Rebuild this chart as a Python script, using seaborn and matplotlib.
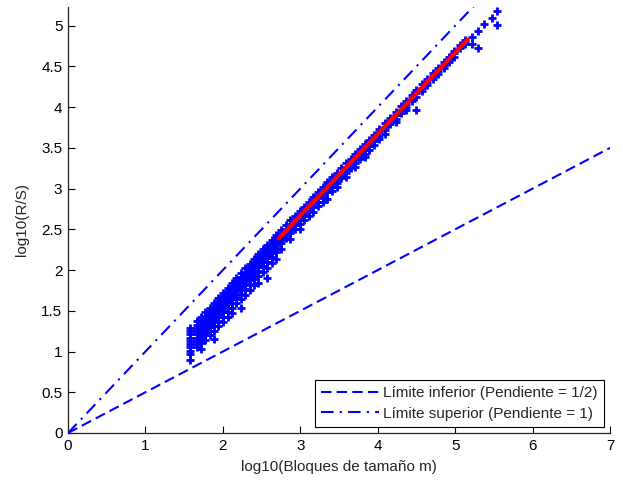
import numpy as np
import pandas as pd
import matplotlib
matplotlib.use('Agg')
import matplotlib.pyplot as plt
import seaborn as sns

# ---- data ----
col_x = [1.57, 1.66, 1.72, 1.77, 1.83, 1.89, 1.94, 2.00, 2.06, 2.12, 2.17, 2.23,
         2.29, 2.35, 2.40, 2.46, 2.52, 2.57, 2.63, 2.69,
         2.75, 2.81, 2.87, 2.93, 2.99, 3.05, 3.11, 3.17, 3.23, 3.29, 3.35, 3.41,
         3.47, 3.53, 3.59, 3.65, 3.71, 3.77, 3.83, 3.89, 3.95,
         4.02, 4.09, 4.16, 4.23, 4.30, 4.37, 4.44, 4.50, 4.57, 4.64, 4.71, 4.78,
         4.85, 4.92, 4.99, 5.06, 5.13, 5.22, 5.30, 5.37, 5.47, 5.54]
col_y = [
    [1.29, 1.25, 1.21, 1.17, 1.13, 1.09, 1.05, 1.01, 0.97, 0.90],
    [1.37, 1.33, 1.29, 1.25, 1.21, 1.17, 1.13, 1.09, 1.05],
    [1.43, 1.39, 1.35, 1.31, 1.27, 1.23, 1.19, 1.15, 1.11, 1.03],
    [1.48, 1.44, 1.40, 1.36, 1.32, 1.28, 1.24, 1.20, 1.14],
    [1.54, 1.50, 1.46, 1.42, 1.38, 1.34, 1.30, 1.25, 1.20],
    [1.60, 1.56, 1.52, 1.48, 1.44, 1.40, 1.36, 1.31, 1.25, 1.15],
    [1.66, 1.62, 1.58, 1.54, 1.50, 1.46, 1.42, 1.37, 1.31],
    [1.72, 1.68, 1.64, 1.60, 1.56, 1.52, 1.48, 1.43, 1.36],
    [1.78, 1.74, 1.70, 1.66, 1.62, 1.58, 1.54, 1.49, 1.42],
    [1.84, 1.80, 1.76, 1.72, 1.68, 1.64, 1.60, 1.54, 1.47],
    [1.90, 1.86, 1.82, 1.78, 1.74, 1.70, 1.66, 1.60],
    [1.96, 1.92, 1.88, 1.84, 1.80, 1.76, 1.71, 1.64, 1.53],
    [2.02, 1.98, 1.94, 1.90, 1.86, 1.82, 1.77, 1.70],
    [2.08, 2.04, 2.00, 1.96, 1.92, 1.88, 1.83, 1.76],
    [2.14, 2.10, 2.06, 2.02, 1.98, 1.94, 1.89, 1.82],
    [2.20, 2.16, 2.12, 2.08, 2.04, 1.99, 1.93, 1.84],
    [2.26, 2.22, 2.18, 2.14, 2.10, 2.05, 1.98],
    [2.31, 2.27, 2.23, 2.19, 2.15, 2.10, 2.03, 1.90],
    [2.37, 2.33, 2.29, 2.25, 2.21, 2.16, 2.09],
    [2.43, 2.39, 2.35, 2.31, 2.27, 2.22, 2.14],
    [2.49, 2.45, 2.41, 2.37, 2.33, 2.26],
    [2.55, 2.51, 2.47, 2.43, 2.39],
    [2.61, 2.57, 2.53, 2.49, 2.45, 2.38],
    [2.67, 2.63, 2.59, 2.55, 2.51],
    [2.73, 2.69, 2.65, 2.61, 2.56, 2.50],
    [2.78, 2.74, 2.70, 2.66, 2.61],
    [2.84, 2.80, 2.76, 2.72, 2.67],
    [2.90, 2.86, 2.82, 2.78, 2.71],
    [2.96, 2.92, 2.88, 2.84, 2.79],
    [3.02, 2.98, 2.94, 2.90, 2.84],
    [3.08, 3.04, 3.00, 2.96, 2.87],
    [3.14, 3.10, 3.06, 3.02, 2.97],
    [3.19, 3.15, 3.11, 3.07, 3.02],
    [3.25, 3.21, 3.17, 3.13],
    [3.31, 3.27, 3.23, 3.19, 3.14],
    [3.37, 3.33, 3.29, 3.25],
    [3.43, 3.39, 3.35, 3.31, 3.26],
    [3.49, 3.45, 3.41, 3.37],
    [3.55, 3.51, 3.47, 3.43, 3.39],
    [3.60, 3.56, 3.52, 3.48],
    [3.66, 3.62, 3.58, 3.54],
    [3.73, 3.69, 3.65, 3.61],
    [3.80, 3.76, 3.72, 3.67],
    [3.87, 3.83, 3.79],
    [3.94, 3.90, 3.86, 3.82],
    [4.01, 3.97, 3.93],
    [4.08, 4.04, 4.00, 3.96],
    [4.15, 4.11, 4.07],
    [4.21, 4.17, 4.13, 3.96],
    [4.28, 4.24, 4.20],
    [4.35, 4.31, 4.27],
    [4.42, 4.38, 4.34],
    [4.48, 4.45, 4.41],
    [4.55, 4.52, 4.48],
    [4.62, 4.59, 4.55],
    [4.69, 4.66, 4.62],
    [4.76, 4.73],
    [4.83, 4.80, 4.77],
    [4.86, 4.78],
    [4.94, 4.73],
    [5.02],
    [5.10],
    [5.18, 5.01],
]

fit_x = [2.72, 5.16]
fit_y = [2.39, 4.83]

bound_x = [0, 7]
lower_y = [0, 3.5]
upper_y = [0, 7]

x_ticks = [0, 1, 2, 3, 4, 5, 6, 7]
y_ticks = [0, 0.5, 1, 1.5, 2, 2.5, 3, 3.5, 4, 4.5, 5]
y_tick_labels = ['0', '0.5', '1', '1.5', '2', '2.5', '3', '3.5', '4', '4.5', '5']

lower_label = 'Límite inferior (Pendiente = 1/2)'
upper_label = 'Límite superior (Pendiente = 1)'
x_label = 'log10(Bloques de tamaño m)'
y_label = 'log10(R/S)'

# ---- build table ----
rows_x, rows_y = [], []
for cx, ys in zip(col_x, col_y):
    for v in ys:
        rows_x.append(cx)
        rows_y.append(v)
df = pd.DataFrame({'x': rows_x, 'y': rows_y})

sns.set_style('white')
plt.rcParams['font.family'] = ['Liberation Sans', 'DejaVu Sans']
plt.rcParams['font.size'] = 11

fig = plt.figure(figsize=(6.23, 4.83), dpi=100)
ax = fig.add_axes([68 / 623, 50 / 483, 542 / 623, 426 / 483])

sns.scatterplot(data=df, x='x', y='y', marker='+', color='#0000ff', s=30,
                linewidth=2.0, ax=ax, legend=False, zorder=2)

sns.lineplot(x=bound_x, y=lower_y, color='#0000ff', linewidth=1.5, ax=ax,
             zorder=3)
l_lower = ax.get_lines()[-1]
l_lower.set_dashes((5, 2.5))
sns.lineplot(x=bound_x, y=upper_y, color='#0000ff', linewidth=1.5, ax=ax,
             zorder=3)
l_upper = ax.get_lines()[-1]
l_upper.set_dashes((6, 3, 1, 3))

sns.lineplot(x=fit_x, y=fit_y, color='#ff0000', linewidth=3.0, ax=ax,
             zorder=4)

ax.set_xlim(0, 7)
ax.set_ylim(0, 5.23)
ax.set_xticks(x_ticks)
ax.set_xticklabels([str(t) for t in x_ticks])
ax.set_yticks(y_ticks)
ax.set_yticklabels(y_tick_labels)
ax.tick_params(direction='in', length=5, width=0.8, colors='black',
               labelsize=11, top=False, right=False, bottom=True, left=True,
               pad=4)
for s in ['top', 'right']:
    ax.spines[s].set_visible(False)
for s in ['left', 'bottom']:
    ax.spines[s].set_color('#222222')
    ax.spines[s].set_linewidth(0.9)

ax.set_xlabel(x_label, fontsize=11, labelpad=5)
ax.set_ylabel(y_label, fontsize=11, labelpad=9)

leg = ax.legend(handles=[l_lower, l_upper], labels=[lower_label, upper_label],
                loc='lower right', frameon=True, fancybox=False,
                edgecolor='black', framealpha=1, handlelength=3.8,
                handletextpad=0.3, borderaxespad=0.4, fontsize=11,
                labelspacing=0.45, borderpad=0.4)
leg.get_frame().set_linewidth(0.8)

fig.savefig('out.png', dpi=100)
